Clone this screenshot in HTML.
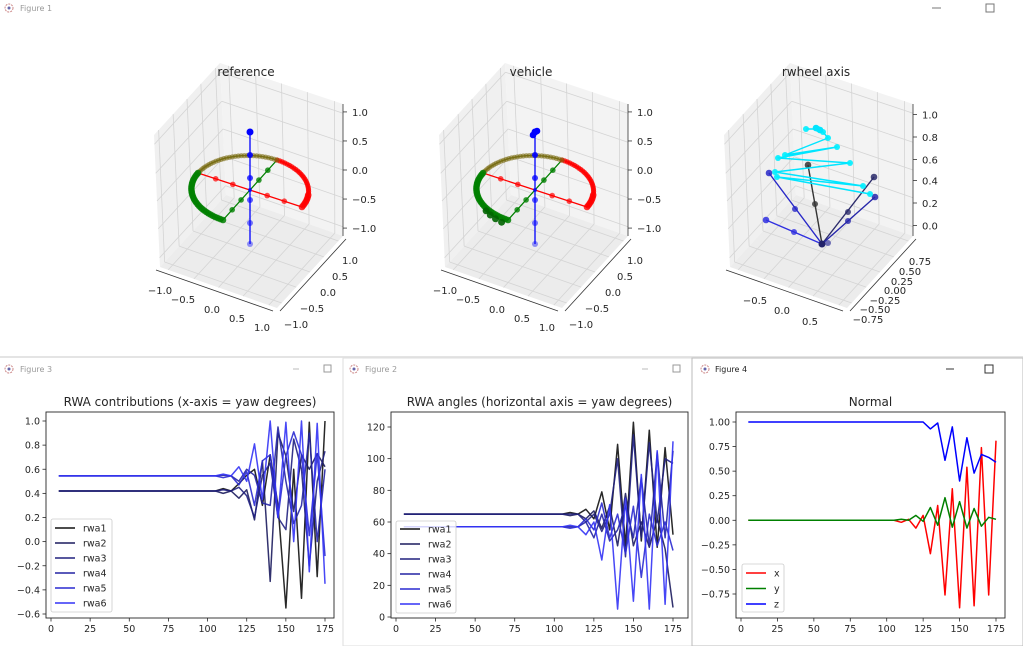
<!DOCTYPE html>
<html><head><meta charset="utf-8">
<style>
html,body{margin:0;padding:0;background:#fff;width:1023px;height:646px;overflow:hidden}
svg{display:block;font-family:"DejaVu Sans","Liberation Sans",sans-serif}
</style></head><body>
<svg id="s" width="1023" height="646" viewBox="0 0 1023 646" xmlns="http://www.w3.org/2000/svg">
<rect width="1023" height="646" fill="#fff"/>
<g id="g"></g>
</svg>
<script>
var out=[];
function L(s){out.push(s);}
function T(x,y,t,sz,anchor,col){L('<text x="'+x+'" y="'+y+'" font-size="'+(sz||10)+'" text-anchor="'+(anchor||'middle')+'" fill="'+(col||'#262626')+'">'+t+'</text>');}
function pl(pts,col,w,op){L('<polyline points="'+pts.map(function(p){return p[0].toFixed(1)+','+p[1].toFixed(1)}).join(' ')+'" fill="none" stroke="'+col+'" stroke-width="'+(w||1.5)+'" stroke-opacity="'+(op||1)+'" stroke-linejoin="round"/>');}
function dot(x,y,r,col,op){L('<circle cx="'+x.toFixed(1)+'" cy="'+y.toFixed(1)+'" r="'+r+'" fill="'+col+'" fill-opacity="'+(op||1)+'"/>');}
function icon(x,y){L('<circle cx="'+x+'" cy="'+y+'" r="4" fill="none" stroke="#c88" stroke-width="1" stroke-dasharray="2 1"/><circle cx="'+x+'" cy="'+y+'" r="1.5" fill="#66a"/>');}

icon(9,8); T(20,11,'Figure 1',8,'start','#999');
L('<line x1="932" y1="8" x2="941" y2="8" stroke="#777"/><rect x="986" y="4" width="8" height="8" fill="none" stroke="#777"/>');
L('<rect x="0" y="356" width="1023" height="2" fill="#e4e4e4"/>');
L('<rect x="0" y="358" width="343" height="288" fill="#fff"/>');
L('<rect x="343" y="358" width="349" height="288" fill="#fff" stroke="#ddd"/>');
L('<rect x="692" y="358" width="331" height="288" fill="#fff" stroke="#bbb"/>');
icon(9,369); T(20,372,'Figure 3',8,'start','#999');
L('<line x1="293" y1="369" x2="299" y2="369" stroke="#bbb"/><rect x="324" y="365" width="7" height="7" fill="none" stroke="#999"/>');
icon(354,369); T(365,372,'Figure 2',8,'start','#999');
L('<line x1="642" y1="369" x2="648" y2="369" stroke="#bbb"/><rect x="673" y="365" width="7" height="7" fill="none" stroke="#999"/>');
icon(705,369); T(715,372,'Figure 4',8,'start','#222');
L('<line x1="946" y1="369" x2="954" y2="369" stroke="#333"/><rect x="985" y="365" width="8" height="8" fill="none" stroke="#333"/>');

var xs=[];for(var i=5;i<=175;i+=5)xs.push(i);
function ser(base,tail){var a=[];for(var i=0;i<21;i++)a.push(base);return a.concat(tail);}
function axes(o){
  L('<rect x="'+o.l+'" y="'+o.t+'" width="'+(o.r-o.l)+'" height="'+(o.b-o.t)+'" fill="#fff"/>');
  o.series.forEach(function(s){pl(xs.map(function(x,i){return [o.fx(x),o.fy(s.v[i])]}),s.c,1.5,s.op||0.9);});
  L('<rect x="'+o.l+'" y="'+o.t+'" width="'+(o.r-o.l)+'" height="'+(o.b-o.t)+'" fill="none" stroke="#262626" stroke-width="0.9"/>');
  [0,25,50,75,100,125,150,175].forEach(function(x){var px=o.fx(x);L('<line x1="'+px+'" y1="'+o.b+'" x2="'+px+'" y2="'+(o.b+3.5)+'" stroke="#262626" stroke-width="0.8"/>');T(px,o.b+14,String(x),9.5);});
  o.yt.forEach(function(y){var py=o.fy(y);L('<line x1="'+(o.l-3.5)+'" y1="'+py+'" x2="'+o.l+'" y2="'+py+'" stroke="#262626" stroke-width="0.8"/>');T(o.l-6,py+3.5,o.yf(y),9.5,'end');});
  T((o.l+o.r)/2,o.t-6,o.title,12);
  var lg=o.leg;
  L('<rect x="'+lg.x+'" y="'+lg.y+'" width="'+lg.w+'" height="'+lg.h+'" rx="2" fill="#fff" fill-opacity="0.8" stroke="#ccc" stroke-width="0.8"/>');
  o.series.forEach(function(s,i){var y=lg.y0+i*lg.dy;L('<line x1="'+(lg.x+4)+'" y1="'+y+'" x2="'+(lg.x+24)+'" y2="'+y+'" stroke="'+s.c+'" stroke-width="1.5"/>');T(lg.x+32,y+3.5,s.n,9.5,'start');});
}
function neg(s){return s.replace('-','\u2212');}
var cols=['#111111','#1c1c5e','#20207f','#2424a4','#2a2ad0','#3333f5'];

axes({l:46,r:334,t:412,b:618,fx:function(x){return 51+x*274/175},fy:function(v){return 421+(1-v)*193/1.6},
 yt:[-0.6,-0.4,-0.2,0,0.2,0.4,0.6,0.8,1.0],yf:function(y){return neg(y.toFixed(1))},
 title:'RWA contributions (x-axis = yaw degrees)',
 leg:{x:51,y:519,w:61,h:93,y0:528,dy:15},
 series:[
  {n:'rwa1',c:cols[0],v:ser(.42,[.44,.42,.48,.55,.6,.3,.72,.3,-.55,.6,-.47,.99,-.29,1.0])},
  {n:'rwa2',c:cols[1],v:ser(.42,[.40,.42,.36,.43,.18,.67,-.33,.9,.71,.25,.72,.6,.73,.62])},
  {n:'rwa3',c:cols[2],v:ser(.42,[.43,.42,.45,.38,.2,.55,.65,.2,.1,.85,.6,-.2,.5,.75])},
  {n:'rwa4',c:cols[3],v:ser(.545,[.55,.545,.5,.6,.55,.32,.3,.95,.5,.15,.3,.9,0,.6])},
  {n:'rwa5',c:cols[4],v:ser(.545,[.53,.545,.47,.58,.3,.67,.72,.2,.71,.91,.72,.05,.73,-.12])},
  {n:'rwa6',c:cols[5],v:ser(.545,[.56,.545,.62,.50,.81,.35,1.0,.2,.99,0,1.0,-.25,.98,-.35])}
 ]});

axes({l:391,r:688,t:412,b:618,fx:function(x){return 396+x*277/175},fy:function(v){return 617-v*190/120},
 yt:[0,20,40,60,80,100,120],yf:function(y){return String(y)},
 title:'RWA angles (horizontal axis = yaw degrees)',
 leg:{x:396,y:521,w:60,h:92,y0:529,dy:15},
 series:[
  {n:'rwa1',c:cols[0],v:ser(65,[66,65,68,62,79,55,109,45,123,48,118,44,107,52])},
  {n:'rwa2',c:cols[1],v:ser(65,[64,65,62,67,56,70,45,78,45,60,44,62,43,6])},
  {n:'rwa3',c:cols[2],v:ser(65,[65,65,60,65,54,65,100,38,115,50,110,60,100,97])},
  {n:'rwa4',c:cols[3],v:ser(57,[57,57,60,50,65,48,55,70,50,88,45,104,50,105])},
  {n:'rwa5',c:cols[4],v:ser(57,[56,57,62,55,72,50,65,40,70,25,65,45,60,42])},
  {n:'rwa6',c:cols[5],v:ser(57,[58,57,52,60,36,71,5,75,10,90,5,105,8,111])}
 ]});

axes({l:736,r:1005,t:412,b:618,fx:function(x){return 741+x*255/175},fy:function(v){return 422+(1-v)*172/1.75},
 yt:[-0.75,-0.5,-0.25,0,0.25,0.5,0.75,1.0],yf:function(y){return neg(y.toFixed(2))},
 title:'Normal',
 leg:{x:742,y:564,w:42,h:48,y0:573,dy:15.5},
 series:[
  {n:'x',c:'#ff0000',op:1,v:ser(0,[-.02,.01,-.08,.05,-.34,.15,-.76,.32,-.89,.54,-.87,.74,-.76,.81])},
  {n:'y',c:'#008000',op:1,v:ser(0,[.01,0,.05,-.01,.13,-.05,.23,-.07,.19,-.08,.12,-.06,.03,.01])},
  {n:'z',c:'#0000ff',op:1,v:ser(1,[1,1,1,1,.93,.99,.61,.95,.40,.84,.48,.67,.64,.59])}
 ]});

function box3d(dx,zt,zf,xt,yt){
  var BL=[160+dx,267],ex=[117,41],ey=[66,-72],ez=[0,-132];
  function P(u,v,w){return [BL[0]+u*ex[0]+v*ey[0]+w*ez[0]-(1-u)*(w)*6,BL[1]+u*ex[1]+v*ey[1]+w*ez[1]];}
  function poly(ps,f){L('<polygon points="'+ps.map(function(p){return p[0]+','+p[1]}).join(' ')+'" fill="'+f+'" stroke="none"/>');}
  poly([P(0,0,0),P(0,1,0),P(0,1,1),P(0,0,1)],'#f0f0f0');
  poly([P(0,1,0),P(1,1,0),P(1,1,1),P(0,1,1)],'#f3f3f3');
  poly([P(0,0,0),P(1,0,0),P(1,1,0),P(0,1,0)],'#ececec');
  var g=[0.07,0.29,0.5,0.71,0.93];
  function ln(a,b){L('<line x1="'+a[0]+'" y1="'+a[1]+'" x2="'+b[0]+'" y2="'+b[1]+'" stroke="#d4d4d4" stroke-width="0.8"/>');}
  g.forEach(function(t){
    ln(P(0,t,0),P(0,t,1)); ln(P(0,0,t),P(0,1,t));
    ln(P(t,1,0),P(t,1,1)); ln(P(0,1,t),P(1,1,t));
    ln(P(t,0,0),P(t,1,0)); ln(P(0,t,0),P(1,t,0));
  });
  function al(a,b){L('<line x1="'+a[0]+'" y1="'+a[1]+'" x2="'+b[0]+'" y2="'+b[1]+'" stroke="#333" stroke-width="0.8"/>');}
  var zr0=P(1,1,0),zr1=P(1,1,1); al(zr0,zr1);
  zt.forEach(function(t){var y=zr0[1]+(zr1[1]-zr0[1])*t.p;al([zr0[0],y],[zr0[0]+4,y]);T(zr0[0]+9,y+4,t.s,10,'start');});
  al([BL[0]-4,BL[1]+3],[BL[0]+ex[0]-4,BL[1]+ex[1]+3]);
  al([BL[0]+ex[0]+3,BL[1]+ex[1]+3],[BL[0]+ex[0]+ey[0]+3,BL[1]+ex[1]+ey[1]+3]);
  xt.forEach(function(t){T(t[0]+dx,t[1],t[2],10);});
  yt.forEach(function(t){T(t[0]+dx,t[1],t[2],10);});
}
var z1=[{p:0.06,s:'\u22121.0'},{p:0.28,s:'\u22120.5'},{p:0.5,s:'0.0'},{p:0.72,s:'0.5'},{p:0.94,s:'1.0'}];
var x1=[[160,294,'\u22121.0'],[183,303,'\u22120.5'],[212,313,'0.0'],[237,322,'0.5'],[262,331,'1.0']];
var y1=[[350,264,'1.0'],[340,280,'0.5'],[328,296,'0.0'],[312,312,'\u22120.5'],[296,328,'\u22121.0']];
function sphere(dx,veh){
  var c=[250+dx,190],a=[52,17],b=[27,-30];
  function E(th){return [c[0]+a[0]*Math.cos(th)+b[0]*Math.sin(th),c[1]+a[1]*Math.cos(th)+b[1]*Math.sin(th)];}
  var arcR=[],arcO=[],arcG=[];
  for(var d=0;d<=90;d+=3)arcR.push(E(d*Math.PI/180));
  for(var d=90;d<=180;d+=3)arcO.push(E(d*Math.PI/180));
  for(var d=180;d<=270;d+=3)arcG.push(E(d*Math.PI/180));
  pl([E(Math.PI),E(0)],'#ff0000',1.3);
  pl([E(-Math.PI/2),E(Math.PI/2)],'#008000',1.3);
  pl(arcR,'#ff0000',1.3);pl(arcO,'#6b7a1a',1.3);pl(arcG,'#008000',1.3);
  arcR.forEach(function(p,i){dot(p[0],p[1],i<8?3.3:2.6,'#ff0000',0.8);});
  arcO.forEach(function(p){dot(p[0],p[1],2.6,'#7a6a10',0.6);});
  arcG.forEach(function(p,i){dot(p[0],p[1],3.3,'#008000',0.85);});
  if(veh){[0,1,2,3].forEach(function(i){var p=E((235+i*8)*Math.PI/180);dot(p[0]+3,p[1]+6,3.5,'#006400',0.9);});}
  [-0.66,-0.33,0.33,0.66].forEach(function(t){
    dot(c[0]+a[0]*t,c[1]+a[1]*t,2.8,'#ff0000',0.7);
    dot(c[0]+b[0]*t,c[1]+b[1]*t,2.8,'#008000',0.8);
  });
  var zs=[132,155,178,200,223,244];
  pl([[c[0],132],[c[0],244]],'#0000ff',1.3);
  zs.forEach(function(y,i){dot(c[0],y,i==0?3.5:3,'#0000ff',1-i*0.12);});
  if(veh){dot(c[0]-2,135,3.3,'#0000ff');dot(c[0]+2,131,3.3,'#0000ff');}
  dot(c[0],c[1],2,'#0000ff',0.7);
}
box3d(0,z1,null,x1,y1);
T(246,76,'reference',12);
sphere(0,false);
box3d(285,z1,null,x1,y1);
T(531,76,'vehicle',12);
sphere(285,true);

var z3=[{p:0.08,s:'0.0'},{p:0.25,s:'0.2'},{p:0.42,s:'0.4'},{p:0.58,s:'0.6'},{p:0.75,s:'0.8'},{p:0.92,s:'1.0'}];
var x3=[[755-570,304,'\u22120.5'],[782-570,314,'0.0'],[810-570,325,'0.5']];
var y3=[[920-570,265,'0.75'],[910-570,275,'0.50'],[902-570,285,'0.25'],[895-570,294,'0.00'],[885-570,304,'\u22120.25'],[875-570,313,'\u22120.50'],[868-570,323,'\u22120.75']];
box3d(570,z3,null,x3,y3);
T(816,76,'rwheel axis',12);
var O=[822,244];
var arms=[
 {e:[808,165],m:[815,204],c:'#333333'},
 {e:[874,177],m:[848,212],c:'#2a2a6a'},
 {e:[875,197],m:[848,221],c:'#2626aa'},
 {e:[769,173],m:[795,209],c:'#2828c8'},
 {e:[766,220],m:[794,232],c:'#3030e0'}
];
arms.forEach(function(a){pl([O,a.e],a.c,1.4);dot(a.m[0],a.m[1],3,a.c,0.8);dot(a.e[0],a.e[1],3.3,a.c,0.85);});
dot(O[0],O[1],3.5,'#22226a');dot(O[0]+6,O[1]-1,3,'#3a3aa0',0.7);
var cy=[[806,129],[818,129],[823,132],[828,138],[785,155],[837,147],[778,158],[850,163],[775,172],[863,186],[777,177],[870,194]];
pl(cy,'#00e5ff',1.4);
cy.forEach(function(p){dot(p[0],p[1],3,'#00eeff',0.9);});
dot(820,130,3.3,'#00e5ff');dot(816,128,3.3,'#00e5ff');

document.getElementById('g').innerHTML=out.join('');
</script>
</body></html>
